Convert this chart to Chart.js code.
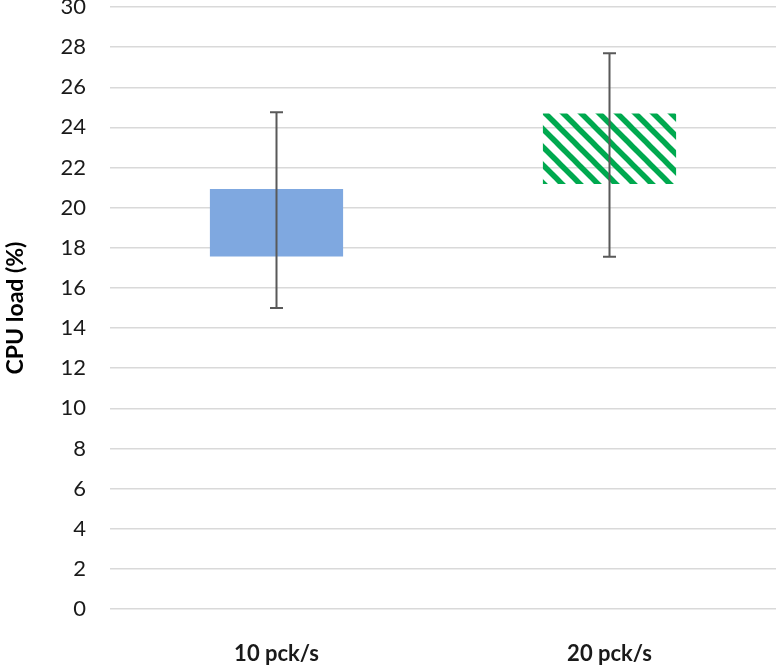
<!DOCTYPE html>
<html>
<head>
<meta charset="utf-8">
<script src="https://cdn.jsdelivr.net/npm/chart.js@4"></script>
<style>
  html, body { margin: 0; padding: 0; background: #fff; }
  #wrap { width: 777px; height: 668px; }
</style>
</head>
<body>
<div id="wrap"><canvas id="cpuchart" width="777" height="668"></canvas></div>
<script>
// データ
const categories = ["10 pck/s", "20 pck/s"];
const boxLow = [17.57, 21.18];
const boxHigh = [20.93, 24.69];
const errLow = [15.0, 17.55];
const errHigh = [24.75, 27.7];
const yTicks = [0, 2, 4, 6, 8, 10, 12, 14, 16, 18, 20, 22, 24, 26, 28, 30];

// 斜線パターン
function makeHatch(color) {
  const size = 18;
  const c = document.createElement("canvas");
  c.width = size;
  c.height = size;
  const g = c.getContext("2d");
  g.strokeStyle = color;
  g.lineWidth = 5.5;
  g.lineCap = "square";
  [-size, 0, size].forEach((off) => {
    g.beginPath();
    g.moveTo(off, 0);
    g.lineTo(off + size, size);
    g.stroke();
  });
  return g.createPattern(c, "repeat");
}

//エラーバー
const errorBarPlugin = {
  id: "errorBars",
  afterDatasetsDraw(chart) {
    const { ctx, scales: { y } } = chart;
    const meta = chart.getDatasetMeta(0);
    ctx.save();
    ctx.strokeStyle = "#595959";
    ctx.lineWidth = 2;
    meta.data.forEach((bar, i) => {
      const x = bar.x;
      const top = y.getPixelForValue(errHigh[i]);
      const bottom = y.getPixelForValue(errLow[i]);
      ctx.beginPath();
      ctx.moveTo(x, top);
      ctx.lineTo(x, bottom);
      ctx.moveTo(x - 6.5, top);
      ctx.lineTo(x + 6.5, top);
      ctx.moveTo(x - 6.5, bottom);
      ctx.lineTo(x + 6.5, bottom);
      ctx.stroke();
    });
    ctx.restore();
  },
};

const ctx = document.getElementById("cpuchart").getContext("2d");
new Chart(ctx, {
  type: "bar",
  data: {
    labels: categories,
    datasets: [
      {
        data: categories.map((_, i) => [boxLow[i], boxHigh[i]]),
        backgroundColor: ["#7fa8e0", makeHatch("#00a94f")],
        borderWidth: 0,
        categoryPercentage: 1.0,
        barPercentage: 0.4,
      },
    ],
  },
  options: {
    responsive: false,
    animation: false,
    layout: { padding: { top: 7, right: 1, left: 0, bottom: 0 } },
    plugins: {
      legend: { display: false },
      tooltip: { enabled: false },
    },
    scales: {
      x: {
        grid: { display: false },
        border: { display: false },
        ticks: {
          color: "#1a1a1a",
          font: { family: "Lato", size: 22, weight: "bold" },
          padding: 24,
        },
        afterFit(scale) {
          scale.height = 59;
          scale.paddingLeft = 0;
          scale.paddingRight = 0;
        },
      },
      y: {
        min: 0,
        max: 30,
        afterBuildTicks(scale) { scale.ticks = yTicks.map((v) => ({ value: v })); },
        grid: { color: "#d9d9d9", lineWidth: 1.5, drawTicks: false },
        border: { display: false },
        ticks: {
          color: "#1a1a1a",
          font: { family: "Lato", size: 22 },
          padding: 24,
        },
        title: {
          display: true,
          text: "CPU load (%)",
          color: "#000",
          font: { family: "Lato", size: 23, weight: "bold" },
          padding: { top: 2, bottom: 8 },
        },
        afterFit(scale) {
          scale.width = 110;
          scale.paddingTop = 0;
          scale.paddingBottom = 0;
        },
      },
    },
  },
  plugins: [errorBarPlugin],
});
</script>
</body>
</html>
